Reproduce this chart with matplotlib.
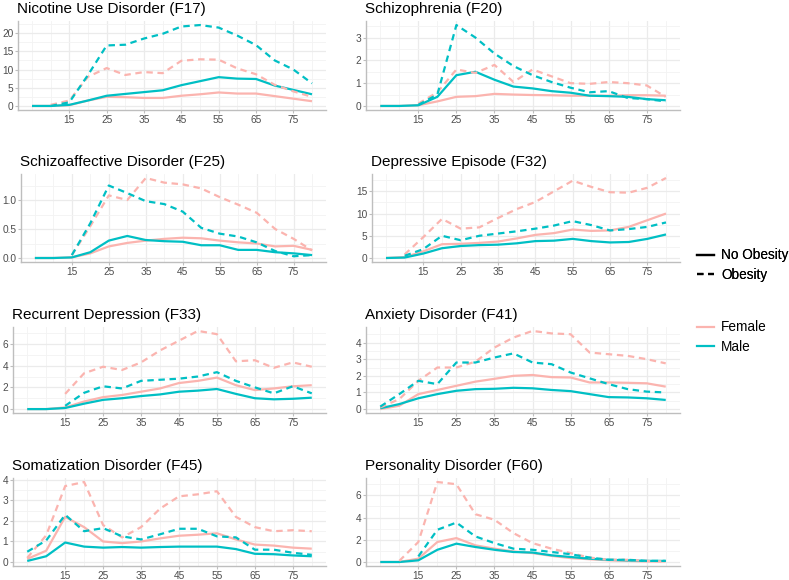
import numpy as np
import matplotlib
matplotlib.use("Agg")
import matplotlib.pyplot as plt
from matplotlib.lines import Line2D

plt.rcParams['font.family'] = ['Liberation Sans', 'DejaVu Sans']

nan = np.nan

# age groups (x values)
ages = [5, 10, 15, 20, 25, 30, 35, 40, 45, 50, 55, 60, 65, 70, 75, 80]

# Nicotine Use Disorder (F17)
f17_male = [0, 0, 0.3, 1.5, 2.8, 3.3, 3.8, 4.3, 5.7, 6.8, 7.9, 7.5, 7.4, 5.6, 4.4, 3.2]
f17_female = [0, 0, 0.2, 1.5, 2.5, 2.4, 2.2, 2.2, 2.8, 3.2, 3.7, 3.4, 3.4, 2.7, 2.0, 1.3]
f17_male_ob = [nan, 0, 1.0, 8.5, 16.6, 16.8, 18.5, 19.8, 21.8, 22.2, 21.5, 19.3, 16.7, 12.5, 10.0, 6.2]
f17_female_ob = [nan, 0.3, 1.5, 8.0, 10.4, 8.5, 9.3, 9.0, 12.4, 12.8, 12.7, 10.3, 8.7, 5.8, 4.0, 2.5]

# Schizophrenia (F20)
f20_male = [0, 0, 0.03, 0.4, 1.35, 1.5, 1.15, 0.85, 0.77, 0.65, 0.58, 0.45, 0.43, 0.4, 0.3, 0.25]
f20_female = [0, 0, 0.03, 0.2, 0.4, 0.43, 0.53, 0.5, 0.48, 0.47, 0.45, 0.45, 0.45, 0.47, 0.47, 0.45]
f20_male_ob = [nan, nan, 0.05, 0.5, 3.55, 3.0, 2.3, 1.75, 1.35, 1.05, 0.8, 0.6, 0.65, 0.35, 0.3, 0.2]
f20_female_ob = [nan, nan, 0.1, 0.6, 1.6, 1.45, 1.8, 1.05, 1.6, 1.3, 1.0, 0.97, 1.05, 1.0, 0.9, 0.4]

# Schizoaffective Disorder (F25)
f25_male = [0, 0, 0.01, 0.1, 0.3, 0.38, 0.31, 0.29, 0.28, 0.22, 0.22, 0.14, 0.14, 0.1, 0.08, 0.05]
f25_female = [0, 0, 0.01, 0.08, 0.2, 0.26, 0.3, 0.33, 0.35, 0.34, 0.3, 0.27, 0.25, 0.2, 0.21, 0.14]
f25_male_ob = [nan, nan, 0.05, 0.6, 1.25, 1.12, 0.98, 0.93, 0.8, 0.52, 0.42, 0.37, 0.27, 0.12, 0.03, 0.05]
f25_female_ob = [nan, nan, 0.05, 0.55, 1.08, 1.0, 1.38, 1.3, 1.27, 1.2, 1.05, 0.92, 0.78, 0.5, 0.33, 0.13]

# Depressive Episode (F32)
f32_male = [0, 0.1, 1.0, 2.2, 2.7, 2.9, 3.0, 3.3, 3.8, 3.9, 4.3, 3.8, 3.5, 3.6, 4.3, 5.3]
f32_female = [0, 0.2, 1.5, 3.1, 3.2, 3.4, 3.7, 4.4, 5.2, 5.6, 6.4, 6.1, 6.2, 7.0, 8.5, 10.0]
f32_male_ob = [nan, 0.5, 2.0, 5.0, 4.0, 5.0, 5.5, 6.0, 6.6, 7.3, 8.3, 7.4, 6.2, 6.5, 7.0, 8.0]
f32_female_ob = [nan, 0.8, 4.7, 8.8, 6.6, 6.9, 9.0, 11.0, 12.6, 15.0, 17.4, 16.0, 14.8, 14.7, 15.8, 18.0]

# Recurrent Depression (F33)
f33_male = [0, 0, 0.1, 0.5, 0.85, 1.0, 1.2, 1.35, 1.6, 1.7, 1.85, 1.4, 1.0, 0.9, 0.95, 1.05]
f33_female = [0, 0, 0.15, 0.7, 1.1, 1.3, 1.6, 1.9, 2.4, 2.6, 2.9, 2.2, 1.75, 1.9, 2.1, 2.2]
f33_male_ob = [nan, nan, 0.3, 1.5, 2.1, 1.9, 2.6, 2.7, 2.8, 3.0, 3.4, 2.6, 2.0, 1.45, 2.1, 1.45]
f33_female_ob = [nan, nan, 1.4, 3.3, 3.9, 3.6, 4.3, 5.4, 6.3, 7.2, 6.9, 4.4, 4.5, 3.8, 4.3, 3.9]

# Anxiety Disorder (F41)
f41_male = [0.05, 0.3, 0.65, 0.9, 1.1, 1.2, 1.22, 1.28, 1.25, 1.15, 1.08, 0.9, 0.72, 0.7, 0.65, 0.55]
f41_female = [0, 0.2, 0.9, 1.15, 1.4, 1.65, 1.82, 2.0, 2.05, 1.92, 1.9, 1.6, 1.6, 1.58, 1.55, 1.35]
f41_male_ob = [0.15, 0.9, 1.7, 1.5, 2.8, 2.8, 3.1, 3.35, 2.8, 2.7, 2.2, 1.85, 1.5, 1.2, 1.05, 1.0]
f41_female_ob = [0.1, 0.6, 1.7, 2.5, 2.5, 2.85, 3.7, 4.3, 4.7, 4.55, 4.5, 3.4, 3.3, 3.2, 3.0, 2.75]

# Somatization Disorder (F45)
f45_male = [0.05, 0.28, 0.95, 0.75, 0.7, 0.73, 0.7, 0.73, 0.75, 0.75, 0.75, 0.63, 0.4, 0.38, 0.32, 0.28]
f45_female = [0.15, 0.55, 2.2, 1.7, 1.0, 0.92, 1.0, 1.15, 1.28, 1.33, 1.4, 1.1, 0.85, 0.8, 0.7, 0.65]
f45_male_ob = [0.5, 1.05, 2.3, 1.5, 1.65, 1.25, 1.1, 1.35, 1.62, 1.62, 1.25, 1.2, 0.6, 0.6, 0.45, 0.35]
f45_female_ob = [0.2, 1.3, 3.7, 3.9, 1.8, 1.2, 1.7, 2.6, 3.2, 3.3, 3.45, 2.2, 1.7, 1.5, 1.55, 1.5]

# Personality Disorder (F60)
f60_male = [0, 0, 0.15, 1.1, 1.65, 1.35, 1.1, 0.9, 0.85, 0.6, 0.45, 0.3, 0.2, 0.15, 0.1, 0.1]
f60_female = [0, 0, 0.3, 1.8, 2.15, 1.5, 1.2, 0.95, 0.8, 0.55, 0.35, 0.25, 0.15, 0.1, 0.05, 0.05]
f60_male_ob = [nan, nan, 0.5, 2.9, 3.55, 2.3, 1.7, 1.2, 1.1, 0.9, 0.7, 0.4, 0.2, 0.2, 0.1, 0.1]
f60_female_ob = [nan, 0.1, 1.8, 7.2, 7.0, 4.3, 3.8, 2.6, 1.7, 1.2, 0.8, 0.4, 0.2, 0.2, 0.1, 0.05]

titles = ["Nicotine Use Disorder (F17)", "Schizophrenia (F20)",
          "Schizoaffective Disorder (F25)", "Depressive Episode (F32)",
          "Recurrent Depression (F33)", "Anxiety Disorder (F41)",
          "Somatization Disorder (F45)", "Personality Disorder (F60)"]
yticks = [[0, 5, 10, 15, 20], [0, 1, 2, 3], [0.0, 0.5, 1.0], [0, 5, 10, 15],
          [0, 2, 4, 6], [0, 1, 2, 3, 4], [0, 1, 2, 3, 4], [0, 2, 4, 6]]
ylabels = [["0", "5", "10", "15", "20"], ["0", "1", "2", "3"], ["0.0", "0.5", "1.0"],
           ["0", "5", "10", "15"], ["0", "2", "4", "6"], ["0", "1", "2", "3", "4"],
           ["0", "1", "2", "3", "4"], ["0", "2", "4", "6"]]
series = [
    (f17_male, f17_female, f17_male_ob, f17_female_ob),
    (f20_male, f20_female, f20_male_ob, f20_female_ob),
    (f25_male, f25_female, f25_male_ob, f25_female_ob),
    (f32_male, f32_female, f32_male_ob, f32_female_ob),
    (f33_male, f33_female, f33_male_ob, f33_female_ob),
    (f41_male, f41_female, f41_male_ob, f41_female_ob),
    (f45_male, f45_female, f45_male_ob, f45_female_ob),
    (f60_male, f60_female, f60_male_ob, f60_female_ob),
]
xticks = [15, 25, 35, 45, 55, 65, 75]

female_col = '#FBB4AF'
male_col = '#00BFC4'
grid_col = '#EBEBEB'
text_col = '#4D4D4D'

W, H = 789, 580
fig = plt.figure(figsize=(W / 100, H / 100), dpi=100)

# panel boxes in pixels: left, top, right, bottom
lefts = [18, 366, 21, 372, 13, 366, 13, 366]
rights = [326, 680, 326, 680, 326, 680, 326, 680]
tops = [21, 21, 174, 174, 327, 327, 478, 478]
bottoms = [110, 110, 262, 262, 413, 413, 566, 566]

dash = (2.9, 2.1)
for i in range(8):
    l, r, t, b = lefts[i], rights[i], tops[i], bottoms[i]
    ax = fig.add_axes([l / W, 1 - b / H, (r - l) / W, (b - t) / H])
    male, female, male_ob, female_ob = series[i]
    ax.plot(ages, female, color=female_col, lw=1.6, solid_capstyle='butt')
    ax.plot(ages, male, color=male_col, lw=1.6, solid_capstyle='butt')
    ax.plot(ages, female_ob, color=female_col, lw=1.6, dashes=dash)
    ax.plot(ages, male_ob, color=male_col, lw=1.6, dashes=dash)

    ax.set_xlim(1.25, 83.75)
    vals = np.concatenate([np.array(s, dtype=float) for s in series[i]])
    lo, hi = 0, np.nanmax(vals)
    pad = (hi - lo) * 0.05
    ax.set_ylim(lo - pad, hi + pad)

    ax.set_xticks(xticks)
    ax.set_xticks([5, 10, 20, 30, 40, 50, 60, 70, 80], minor=True)
    ax.set_yticks(yticks[i])
    ax.set_yticklabels(ylabels[i])
    yt = yticks[i]
    step = yt[1] - yt[0]
    minors = [v + step / 2 for v in [yt[0] - step] + yt]
    minors = [m for m in minors if lo - pad <= m <= hi + pad]
    ax.set_yticks(minors, minor=True)

    ax.grid(True, which='major', color=grid_col, lw=0.9)
    ax.grid(True, which='minor', color='#F3F3F3', lw=0.6)
    ax.set_axisbelow(True)
    for s in ['top', 'right']:
        ax.spines[s].set_visible(False)
    for s in ['left', 'bottom']:
        ax.spines[s].set_color('#BEBEBE')
        ax.spines[s].set_linewidth(1.0)
    ax.tick_params(which='major', length=2.2, width=0.8, color='#BEBEBE',
                   labelsize=7.3, labelcolor=text_col, pad=1.2)
    ax.tick_params(which='minor', length=0)
    ax.annotate(titles[i], xy=(0, 1), xycoords='axes fraction',
                xytext=(-0.5, 6.0), textcoords='offset points',
                ha='left', va='baseline', fontsize=11.0, color='black')

# legend for line types and sexes
handles1 = [Line2D([], [], color='black', lw=1.6),
            Line2D([], [], color='black', lw=1.6, dashes=dash)]
leg1 = fig.legend(handles1, ['No Obesity', 'Obesity'], loc='center left',
                  bbox_to_anchor=(692 / W, 1 - 265 / H), frameon=False,
                  fontsize=9.8, handlelength=1.25, handletextpad=0.5,
                  labelspacing=0.4, borderaxespad=0)
handles2 = [Line2D([], [], color=female_col, lw=1.6),
            Line2D([], [], color=male_col, lw=1.6)]
fig.legend(handles2, ['Female', 'Male'], loc='center left',
           bbox_to_anchor=(692 / W, 1 - 337 / H), frameon=False,
           fontsize=9.8, handlelength=1.25, handletextpad=0.5,
           labelspacing=0.4, borderaxespad=0)
fig.add_artist(leg1)

fig.savefig('out.png', dpi=100)
